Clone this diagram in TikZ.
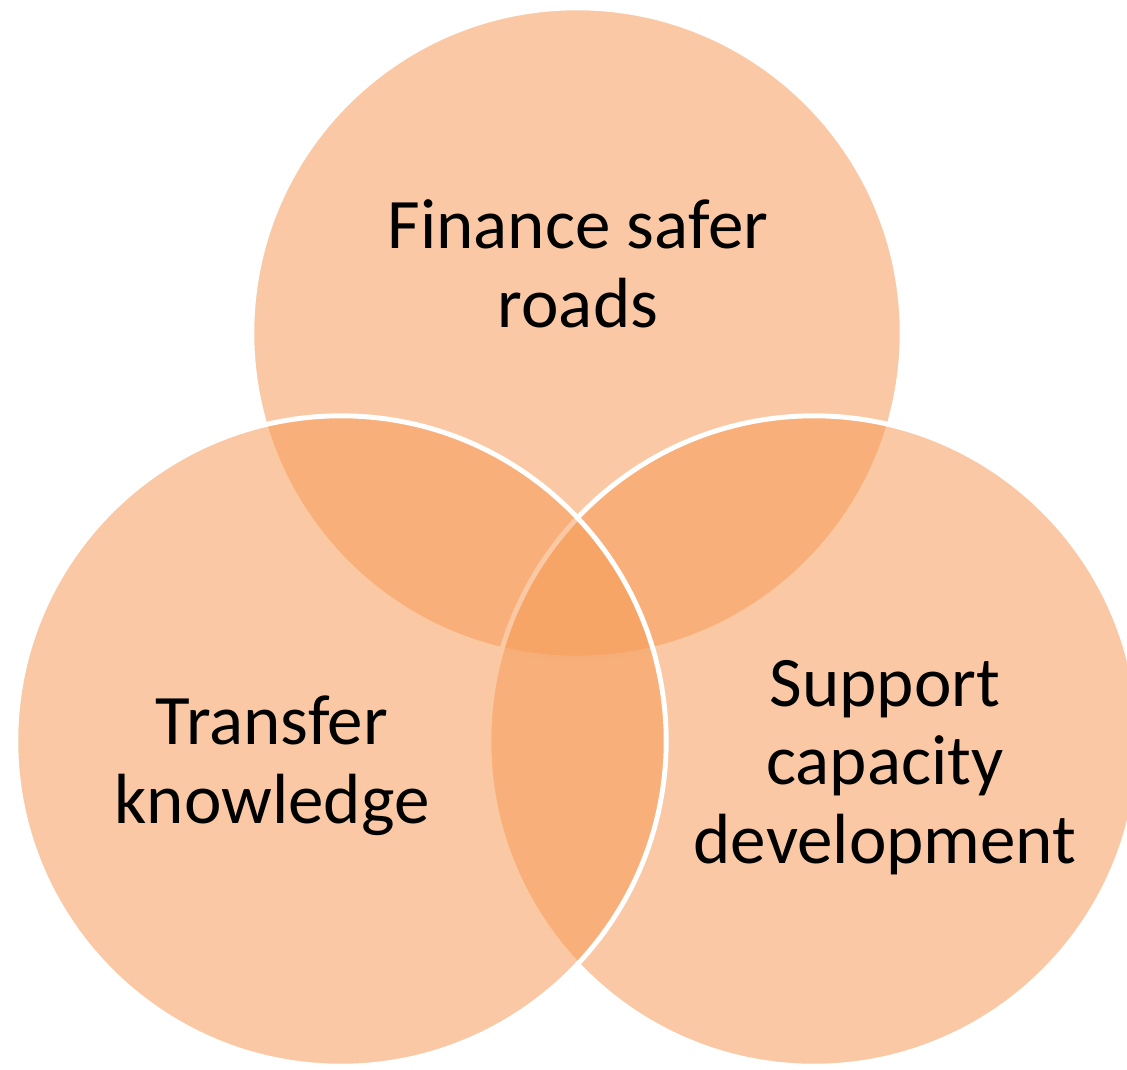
\documentclass[tikz,border=0pt]{standalone}
\usepackage{fontspec}
\setmainfont{Carlito}
\usetikzlibrary{positioning}
\definecolor{vennfill}{RGB}{246,154,86}
\tikzset{
	venncircle/.style={circle,draw=white,line width=1.4pt,fill=vennfill,fill opacity=0.54,minimum size=6.5cm,inner sep=0pt},
	venntext/.style={align=center,font=\fontsize{20.2}{22.2}\selectfont,text=black,inner sep=0pt}
}
\begin{document}
\begin{tikzpicture}[x=0.01cm,y=-0.01cm]
			\useasboundingbox (0,0) rectangle (1127,1069);
			\node[venncircle] (finance) at (577,333) {};
			\node[venncircle] (support) at (814,741) {};
			\node[venncircle] (transfer) at (341,741) {};
			\node[venntext,anchor=base] (financetext) at (578,327) {Finance safer\\roads};
			\node[venntext,anchor=base] (transfertext) at (272,823) {Transfer\\knowledge};
			\node[venntext,anchor=base] (supporttext) at (885,863) {Support\\capacity\\development};
		\end{tikzpicture}
\end{document}
